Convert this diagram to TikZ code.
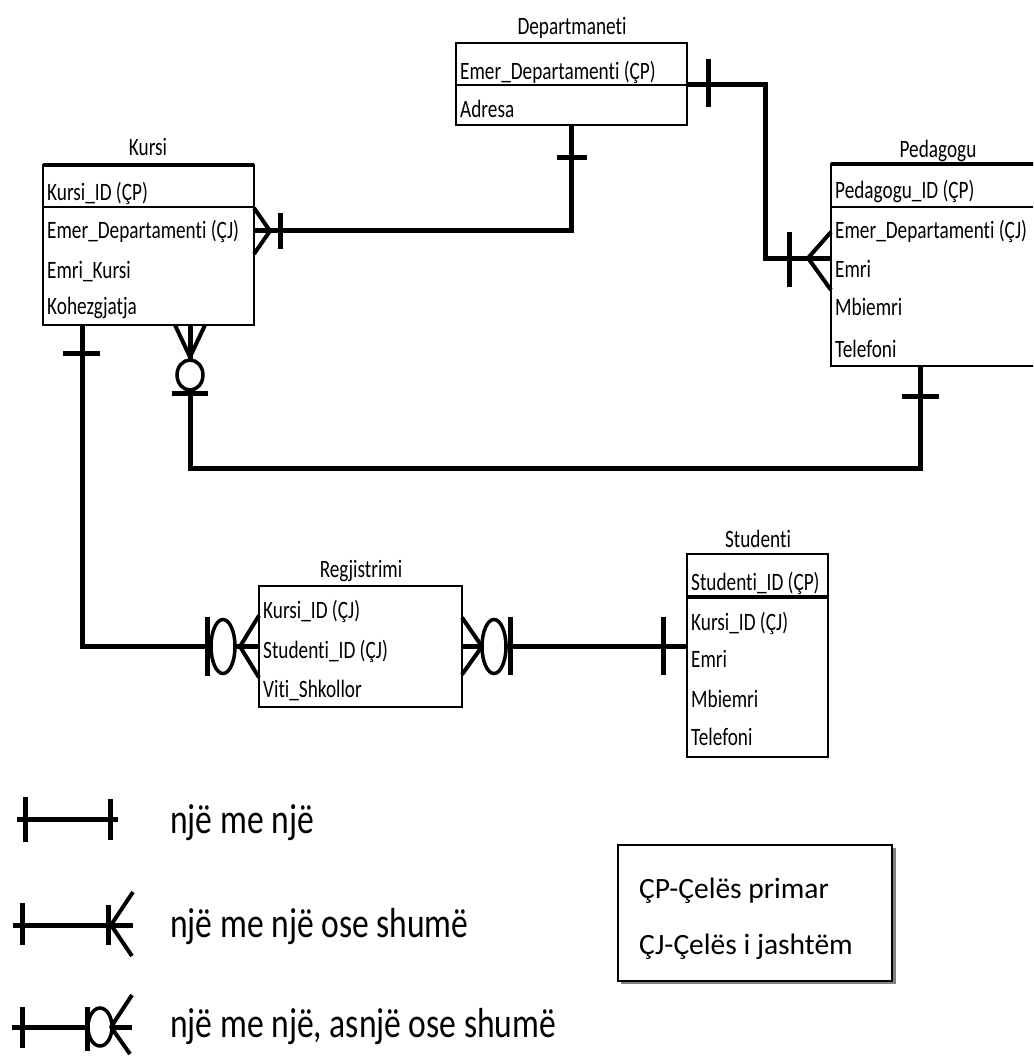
\documentclass[tikz,border=0pt]{standalone}
\usepackage{fontspec}
\setmainfont[Ligatures=NoCommon]{Carlito}
\newfontfamily\tblfont[FakeStretch=0.77, Ligatures=NoCommon]{Carlito}
\newfontfamily\legfont[FakeStretch=0.8, Ligatures=NoCommon]{Carlito}
\usetikzlibrary{calc}

\begin{document}
\begin{tikzpicture}[x=1pt, y=-1pt, tbl/.style={draw, line width=1.6pt, fill=white, anchor=north west, outer sep=0pt, inner sep=0pt}, fld/.style={anchor=base west, inner sep=0pt, font=\tblfont\fontsize{25}{30}\selectfont}, ttl/.style={anchor=base, inner sep=0pt, font=\tblfont\fontsize{25}{30}\selectfont}, sepln/.style={line width=1.6pt}, rel/.style={line width=5pt}, bar/.style={line width=5pt}, crow/.style={line width=4pt, line join=round}, opt/.style={line width=3.5pt, fill=white}, leg/.style={anchor=base west, inner sep=0pt, font=\legfont\fontsize{42}{50}\selectfont}]
\useasboundingbox (0,0) rectangle (1033,1057);
\clip (0,0) rectangle (1033,1057);

% tables
\node[ttl] (kursiT) at (148,155) {Kursi};
\node[tbl, minimum width=211pt, minimum height=160pt] (kursi) at (43,165) {};
\draw[line width=3.5pt] (kursi.north west) -- (kursi.north east);
\draw[sepln] (43,207) -- (254,207);
\node[fld] (kId) at (47,200) {Kursi\_ID (ÇP)};
\node[fld] (kEmer) at (47,238) {Emer\_Departamenti (ÇJ)};
\node[fld] (kEmri) at (47,278) {Emri\_Kursi};
\node[fld] (kKoh) at (47,314) {Kohezgjatja};

\node[ttl] (depT) at (572,35) {Departmaneti};
\node[tbl, minimum width=231pt, minimum height=82pt] (dep) at (456,43) {};
\draw[sepln] (456,85) -- (687,85);
\node[fld] (dEmer) at (460,80) {Emer\_Departamenti (ÇP)};
\node[fld] (dAdr) at (460,117) {Adresa};

\node[ttl] (pedT) at (938,157) {Pedagogu};
\node[tbl, minimum width=215pt, minimum height=202pt] (ped) at (831,164) {};
\draw[line width=3.5pt] (ped.north west) -- (ped.north east);
\draw[sepln] (831,207) -- (1046,207);
\node[fld] (pId) at (835,198) {Pedagogu\_ID (ÇP)};
\node[fld] (pEmer) at (835,238) {Emer\_Departamenti (ÇJ)};
\node[fld] (pEmri) at (835,277) {Emri};
\node[fld] (pMb) at (835,315) {Mbiemri};
\node[fld] (pTel) at (835,357) {Telefoni};

\node[ttl] (regT) at (361,577) {Regjistrimi};
\node[tbl, minimum width=203pt, minimum height=121pt] (reg) at (259,586) {};
\node[fld] (rKid) at (263,618) {Kursi\_ID (ÇJ)};
\node[fld] (rSid) at (263,658) {Studenti\_ID (ÇJ)};
\node[fld] (rViti) at (263,697) {Viti\_Shkollor};

\node[ttl] (stuT) at (758,547) {Studenti};
\node[tbl, minimum width=141pt, minimum height=203pt] (stu) at (687,554) {};
\draw[line width=3.5pt] (687,597) -- (828,597);
\node[fld] (sId) at (691,590) {Studenti\_ID (ÇP)};
\node[fld] (sKid) at (691,630) {Kursi\_ID (ÇJ)};
\node[fld] (sEmri) at (691,667) {Emri};
\node[fld] (sMb) at (691,707) {Mbiemri};
\node[fld] (sTel) at (691,745) {Telefoni};

% connection points
\coordinate (kD) at (kursi.east |- kEmer);
\coordinate (kr1) at ([xshift=39pt]kursi.south west);
\coordinate (kp1) at ([xshift=147pt]kursi.south west);
\coordinate (pIn) at ([yshift=7pt]ped.west);
\coordinate (pk1) at ([xshift=89pt]ped.south west);
\coordinate (dpBend) at (765,258);
\coordinate (sIn) at (reg.east -| stu.west);

% relations
\draw[rel] (kD) -| (dep.south);
\draw[crow] (kD) ++(0,-23) -- ++(16,23) -- ++(-16,23);
\draw[bar] (kD) ++(26,-18) -- ++(0,36);
\draw[bar] (dep.south) ++(-15,32) -- ++(30,0);

\draw[rel] (dep.east) -| (dpBend) -- (pIn);
\draw[bar] (dep.east) ++(21,-25) -- ++(0,48);
\draw[bar] (pIn) ++(-42,-26) -- ++(0,55);
\draw[crow] (pIn) ++(0,-26) -- ++(-23,26) -- ++(23,32);

\draw[rel] (kp1) -- ++(0,143) -| (pk1);
\draw[crow] (kp1) ++(-15,0) -- ++(15,32) -- ++(15,-32);
\draw[opt] (kp1) ++(0,50) ellipse [x radius=13, y radius=15];
\draw[bar] (kp1) ++(-18,68) -- ++(36,0);
\draw[bar] (pk1) ++(-18,30) -- ++(37,0);

\draw[rel] (kr1) |- (reg.west);
\draw[bar] (kr1) ++(-19,28) -- ++(37,0);
\draw[bar] (reg.west) ++(-52,-30) -- ++(0,59);
\draw[opt] (reg.west) ++(-36,0) ellipse [x radius=12, y radius=27];
\draw[crow] (reg.west) ++(0,-31) -- ++(-19,31) -- ++(19,31);

\draw[rel] (reg.east) -- (sIn);
\draw[crow] (reg.east) ++(0,-29) -- ++(20,29) -- ++(-20,28);
\draw[opt] (reg.east) ++(32,0) ellipse [x radius=12, y radius=27];
\draw[bar] (reg.east) ++(48,-30) -- ++(0,58);
\draw[bar] (sIn) ++(-24,-30) -- ++(0,58);

% legend
\draw[rel] (17,819) -- (118,819);
\draw[bar] (25,797) -- (25,842);
\draw[bar] (110,799) -- (110,840);
\node[leg] (l1) at (170,833) {një me një};

\draw[rel] (13,925) -- (133,925);
\draw[bar] (22,903) -- (22,945);
\draw[bar] (108,905) -- (108,945);
\draw[crow] (133,892) -- (111,925) -- (132,956);
\node[leg] (l2) at (170,937) {një me një ose shumë};

\draw[rel] (12,1027) -- (132,1027);
\draw[bar] (22,1007) -- (22,1048);
\draw[bar] (87,1007) -- (87,1051);
\draw[opt] (100,1027) ellipse [x radius=12, y radius=19];
\draw[crow] (132,995) -- (111,1027) -- (130,1054);
\node[leg] (l3) at (170,1037) {një me një, asnjë ose shumë};

\draw[line width=3pt, gray] (621,982) -- (894,982) -- (894,848);
\node[draw, line width=1.5pt, fill=white, anchor=north west, outer sep=0pt, minimum width=274pt, minimum height=136pt] (key) at (618,845) {};
\node[anchor=base west, inner sep=0pt, font=\fontsize{29.5}{35}\selectfont] (cp) at (639,898) {ÇP-Çelës primar};
\node[anchor=base west, inner sep=0pt, font=\fontsize{29.5}{35}\selectfont] (cj) at (639,954) {ÇJ-Çelës i jashtëm};
\end{tikzpicture}
\end{document}
